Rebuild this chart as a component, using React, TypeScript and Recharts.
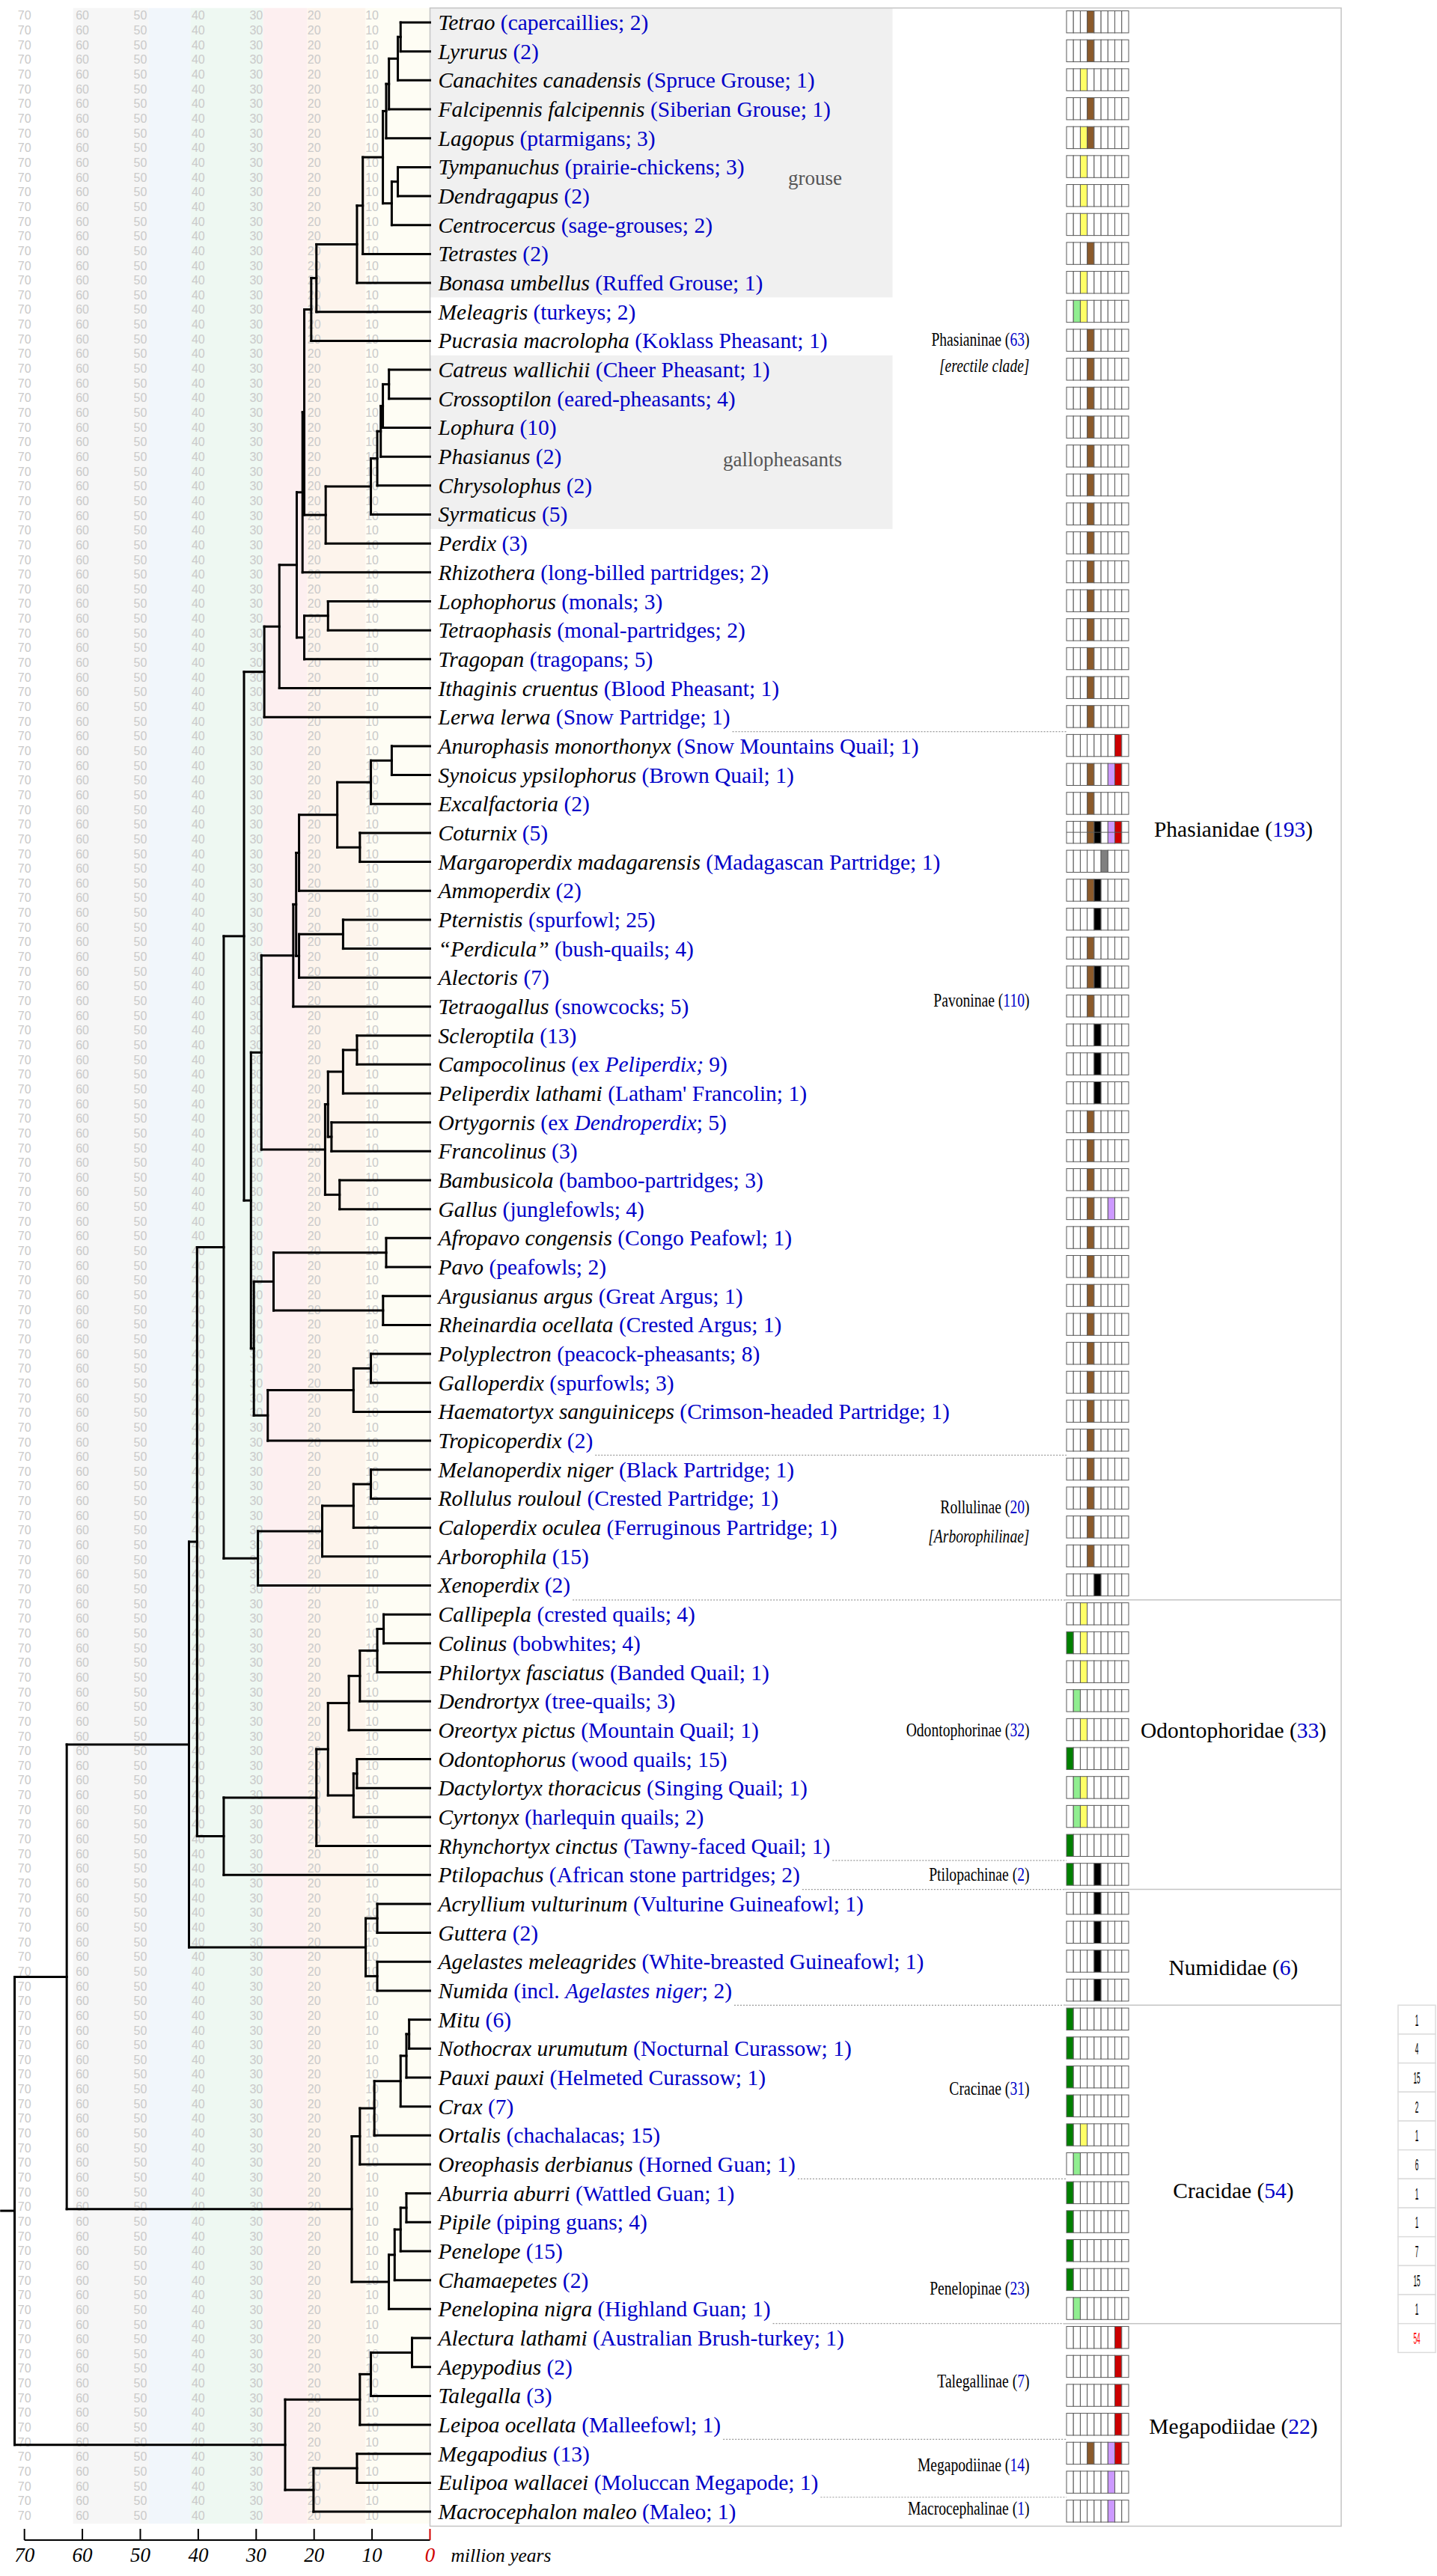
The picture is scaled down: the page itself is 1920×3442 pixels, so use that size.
import React from 'react';
import { ComposedChart, XAxis, YAxis, Scatter, ReferenceLine, ReferenceArea } from 'recharts';

// ---------------- data ----------------
const TAXA: string[] = [
  'Tetrao', 'Lyrurus', 'Canachites canadensis', 'Falcipennis falcipennis', 'Lagopus',
  'Tympanuchus', 'Dendragapus', 'Centrocercus', 'Tetrastes', 'Bonasa umbellus',
  'Meleagris', 'Pucrasia macrolopha', 'Catreus wallichii', 'Crossoptilon', 'Lophura',
  'Phasianus', 'Chrysolophus', 'Syrmaticus', 'Perdix', 'Rhizothera',
  'Lophophorus', 'Tetraophasis', 'Tragopan', 'Ithaginis cruentus', 'Lerwa lerwa',
  'Anurophasis monorthonyx', 'Synoicus ypsilophorus', 'Excalfactoria', 'Coturnix', 'Margaroperdix madagarensis',
  'Ammoperdix', 'Pternistis', '\u201CPerdicula\u201D', 'Alectoris', 'Tetraogallus',
  'Scleroptila', 'Campocolinus', 'Peliperdix lathami', 'Ortygornis', 'Francolinus',
  'Bambusicola', 'Gallus', 'Afropavo congensis', 'Pavo', 'Argusianus argus',
  'Rheinardia ocellata', 'Polyplectron', 'Galloperdix', 'Haematortyx sanguiniceps', 'Tropicoperdix',
  'Melanoperdix niger', 'Rollulus rouloul', 'Caloperdix oculea', 'Arborophila', 'Xenoperdix',
  'Callipepla', 'Colinus', 'Philortyx fasciatus', 'Dendrortyx', 'Oreortyx pictus',
  'Odontophorus', 'Dactylortyx thoracicus', 'Cyrtonyx', 'Rhynchortyx cinctus', 'Ptilopachus',
  'Acryllium vulturinum', 'Guttera', 'Agelastes meleagrides', 'Numida', 'Mitu',
  'Nothocrax urumutum', 'Pauxi pauxi', 'Crax', 'Ortalis', 'Oreophasis derbianus',
  'Aburria aburri', 'Pipile', 'Penelope', 'Chamaepetes', 'Penelopina nigra',
  'Alectura lathami', 'Aepypodius', 'Talegalla', 'Leipoa ocellata', 'Megapodius',
  'Eulipoa wallacei', 'Macrocephalon maleo',
];

const NOTES: string[] = [
  '(capercaillies; 2)', '(2)', '(Spruce Grouse; 1)', '(Siberian Grouse; 1)', '(ptarmigans; 3)',
  '(prairie-chickens; 3)', '(2)', '(sage-grouses; 2)', '(2)', '(Ruffed Grouse; 1)',
  '(turkeys; 2)', '(Koklass Pheasant; 1)', '(Cheer Pheasant; 1)', '(eared-pheasants; 4)', '(10)',
  '(2)', '(2)', '(5)', '(3)', '(long-billed partridges; 2)',
  '(monals; 3)', '(monal-partridges; 2)', '(tragopans; 5)', '(Blood Pheasant; 1)', '(Snow Partridge; 1)',
  '(Snow Mountains Quail; 1)', '(Brown Quail; 1)', '(2)', '(5)', '(Madagascan Partridge; 1)',
  '(2)', '(spurfowl; 25)', '(bush-quails; 4)', '(7)', '(snowcocks; 5)',
  '(13)', '(ex *Peliperdix;* 9)', "(Latham' Francolin; 1)", '(ex *Dendroperdix*; 5)', '(3)',
  '(bamboo-partridges; 3)', '(junglefowls; 4)', '(Congo Peafowl; 1)', '(peafowls; 2)', '(Great Argus; 1)',
  '(Crested Argus; 1)', '(peacock-pheasants; 8)', '(spurfowls; 3)', '(Crimson-headed Partridge; 1)', '(2)',
  '(Black Partridge; 1)', '(Crested Partridge; 1)', '(Ferruginous Partridge; 1)', '(15)', '(2)',
  '(crested quails; 4)', '(bobwhites; 4)', '(Banded Quail; 1)', '(tree-quails; 3)', '(Mountain Quail; 1)',
  '(wood quails; 15)', '(Singing Quail; 1)', '(harlequin quails; 2)', '(Tawny-faced Quail; 1)', '(African stone partridges; 2)',
  '(Vulturine Guineafowl; 1)', '(2)', '(White-breasted Guineafowl; 1)', '(incl. *Agelastes niger*; 2)', '(6)',
  '(Nocturnal Curassow; 1)', '(Helmeted Curassow; 1)', '(7)', '(chachalacas; 15)', '(Horned Guan; 1)',
  '(Wattled Guan; 1)', '(piping guans; 4)', '(15)', '(2)', '(Highland Guan; 1)',
  '(Australian Brush-turkey; 1)', '(2)', '(3)', '(Malleefowl; 1)', '(13)',
  '(Moluccan Megapode; 1)', '(Maleo; 1)',
];

// trait cells filled per taxon (column index 0..8)
const TRAITS: number[][] = [
  [3], [3], [2], [3], [2, 3], [2], [2], [2], [3], [2],
  [1, 2], [3], [3], [3], [3], [3], [3], [3], [3], [3],
  [3], [3], [3], [3], [3], [7], [3, 6, 7], [3], [3, 4, 6, 7], [5],
  [3, 4], [4], [3], [3, 4], [3], [4], [4], [4], [3], [3],
  [3], [3, 6], [3], [3], [3], [3], [3], [3], [3], [3],
  [3], [3], [3], [3], [4], [2], [0, 2], [2], [1], [2],
  [0], [1, 2], [1, 2], [0], [0, 4], [4], [4], [4], [4], [0],
  [0], [0], [0], [0, 2], [1], [0], [0], [0], [0], [1],
  [7], [7], [7], [7], [3, 6, 7], [6], [6],
];
const SPLIT_TRAIT_ROWS: number[] = [28];
const TRAIT_COLORS: string[] = ['#008000', '#90ee90', '#ffff66', '#8b5a2b', '#000000', '#808080', '#cc99ff', '#cc0000', '#ffffff'];

// internal nodes: [id, age (Ma), child, child]  (numbers = taxon rows)
type Child = number | string;
const NODES: [string, number, Child, Child][] = [
  ['n1', 5.07, 0, 1], ['n2', 5.55, 'n1', 2], ['n3', 7.08, 'n2', 3], ['n4', 7.56, 'n3', 4],
  ['g1', 5.55, 5, 6], ['g2', 6.6, 'g1', 7], ['n5', 8.13, 'n4', 'g2'], ['n6', 11.6, 'n5', 8],
  ['n7', 12.6, 'n6', 9], ['n8', 19.6, 'n7', 10], ['n9', 20.5, 'n8', 11],
  ['p1', 7.08, 12, 13], ['p2', 8.13, 'p1', 14], ['p3', 8.5, 'p2', 15], ['p4', 9.1, 'p3', 16],
  ['p5', 10.2, 'p4', 17], ['p6', 18.0, 'p5', 18], ['n10', 21.7, 'n9', 'p6'], ['n11', 22.0, 'n10', 19],
  ['l1', 17.6, 20, 21], ['l2', 21.7, 'l1', 22], ['n12', 23.0, 'n11', 'l2'], ['n13', 26.0, 'n12', 23],
  ['n14', 28.6, 'n13', 24],
  ['c1', 6.6, 25, 26], ['c2', 10.2, 'c1', 27], ['c3', 12.1, 28, 29], ['c4', 16.0, 'c2', 'c3'],
  ['c5', 22.6, 'c4', 30], ['a1', 15.0, 31, 32], ['a2', 22.6, 'a1', 33], ['c6', 23.1, 'c5', 'a2'],
  ['c7', 23.6, 'c6', 34], ['f1', 12.6, 35, 36], ['f2', 15.0, 'f1', 37], ['f3', 17.0, 38, 39],
  ['f4', 17.6, 'f2', 'f3'], ['b1', 15.6, 40, 41], ['f5', 18.1, 'f4', 'b1'], ['c8', 29.1, 'c7', 'f5'],
  ['v1', 7.56, 42, 43], ['v2', 8.1, 44, 45], ['v3', 27.0, 'v1', 'v2'], ['q1', 10.2, 46, 47],
  ['q2', 13.2, 'q1', 48], ['q3', 28.0, 'q2', 49], ['v4', 30.4, 'v3', 'q3'], ['pav', 30.9, 'c8', 'v4'],
  ['pha', 32.1, 'n14', 'pav'],
  ['r1', 10.2, 50, 51], ['r2', 13.2, 'r1', 52], ['r3', 18.6, 'r2', 53], ['r4', 29.7, 'r3', 54],
  ['phd', 35.6, 'pha', 'r4'],
  ['o1', 8.0, 55, 56], ['o2', 9.1, 'o1', 57], ['o3', 12.1, 'o2', 58], ['o4', 14.0, 'o3', 59],
  ['o5', 12.6, 60, 61], ['o6', 13.2, 'o5', 62], ['o7', 17.6, 'o4', 'o6'], ['o8', 19.6, 'o7', 63],
  ['odo', 35.6, 'o8', 64], ['po', 40.2, 'phd', 'odo'],
  ['u1', 9.1, 65, 66], ['u2', 9.1, 67, 68], ['num', 11.1, 'u1', 'u2'], ['pon', 41.6, 'po', 'num'],
  ['k1', 3.6, 69, 70], ['k2', 4.07, 'k1', 71], ['k3', 5.07, 'k2', 72], ['k4', 9.6, 'k3', 73],
  ['k5', 12.1, 'k4', 74], ['e1', 4.07, 75, 76], ['e2', 5.07, 'e1', 77], ['e3', 6.1, 'e2', 78],
  ['e4', 7.1, 'e3', 79], ['cra', 13.5, 'k5', 'e4'], ['crf', 62.7, 'pon', 'cra'],
  ['m1', 3.1, 80, 81], ['m2', 10.2, 'm1', 82], ['m3', 12.1, 'm2', 83], ['m4', 12.6, 84, 85],
  ['m5', 20.1, 'm4', 86], ['meg', 25.0, 'm3', 'm5'], ['root', 71.7, 'crf', 'meg'],
];
const ROOT_STEM_AGE = 74.0;

const AXIS_TICKS: number[] = [70, 60, 50, 40, 30, 20, 10, 0];
const GRID_VALUES: number[] = [70, 60, 50, 40, 30, 20, 10];

const BANDS = [
  { from: 61.6, to: 48.6, fill: '#f6f6f6' },
  { from: 48.6, to: 41.3, fill: '#f1f6fb' },
  { from: 41.3, to: 28.8, fill: '#eef8f2' },
  { from: 28.8, to: 21.2, fill: '#fdeff0' },
  { from: 21.2, to: 11.1, fill: '#fdf4ec' },
  { from: 11.1, to: 0, fill: '#fefdf4' },
];

const GROUPS = [
  { from: 0, to: 9, label: 'grouse', labelRow: 5.38 },
  { from: 12, to: 17, label: 'gallopheasants', labelRow: 15.1 },
];

const SUBFAMILIES = [
  { row: 10.97, name: 'Phasianinae', count: '63' },
  { row: 11.87, name: '[erectile clade]', count: '' },
  { row: 33.8, name: 'Pavoninae', count: '110' },
  { row: 51.3, name: 'Rollulinae', count: '20' },
  { row: 52.3, name: '[Arborophilinae]', count: '' },
  { row: 59.0, name: 'Odontophorinae', count: '32' },
  { row: 64.0, name: 'Ptilopachinae', count: '2' },
  { row: 71.4, name: 'Cracinae', count: '31' },
  { row: 78.3, name: 'Penelopinae', count: '23' },
  { row: 81.5, name: 'Talegallinae', count: '7' },
  { row: 84.4, name: 'Megapodiinae', count: '14' },
  { row: 85.9, name: 'Macrocephalinae', count: '1' },
];

const FAMILIES = [
  { row: 27.87, name: 'Phasianidae', count: '193' },
  { row: 59.0, name: 'Odontophoridae', count: '33' },
  { row: 67.2, name: 'Numididae', count: '6' },
  { row: 74.9, name: 'Cracidae', count: '54' },
  { row: 83.05, name: 'Megapodiidae', count: '22' },
];

const SUBFAMILY_BREAKS: number[] = [24.5, 49.5, 63.5, 74.5, 83.5, 85.5];
const FAMILY_BREAKS: number[] = [54.5, 64.5, 68.5, 79.5];

const COUNT_ROWS: number[] = [69, 70, 71, 72, 73, 74, 75, 76, 77, 78, 79, 80];
const COUNT_VALUES: string[] = ['1', '4', '15', '2', '1', '6', '1', '1', '7', '15', '1', '54'];

// ---------------- layout / style constants ----------------
const W = 1920;
const H = 3442;
const X_LEFT_AGE = 74.22;
const Y_MIN = -0.5;
const Y_MAX = 86.98;
const BAND_BOTTOM = 86.41;
const PANEL_BOTTOM = 86.5;
const ROW_PX = 38.674;
const LABEL_FS = 29.5;
const LABEL_DX = 11;
const BOX_DX = 850.5;
const SERIF = "'Liberation Serif', 'Times New Roman', serif";
const SANS = "'Liberation Sans', Arial, sans-serif";
const BLUE = '#0000c8';

// ---------------- tree geometry from data ----------------
const nodeMap = new Map<string, [string, number, Child, Child]>();
NODES.forEach((n) => nodeMap.set(n[0], n));
const yOf = (c: Child): number => {
  if (typeof c === 'number') return c;
  const n = nodeMap.get(c)!;
  return (yOf(n[2]) + yOf(n[3])) / 2;
};
const ageOf = (c: Child): number => (typeof c === 'number' ? 0 : nodeMap.get(c)![1]);

type Seg = { x1: number; y1: number; x2: number; y2: number };
const SEGMENTS: Seg[] = [];
NODES.forEach(([, age, a, b]) => {
  SEGMENTS.push({ x1: age, y1: yOf(a), x2: age, y2: yOf(b) });
  SEGMENTS.push({ x1: age, y1: yOf(a), x2: ageOf(a), y2: yOf(a) });
  SEGMENTS.push({ x1: age, y1: yOf(b), x2: ageOf(b), y2: yOf(b) });
});
SEGMENTS.push({ x1: ROOT_STEM_AGE, y1: yOf('root'), x2: 71.7, y2: yOf('root') });

// text measuring (for dotted leaders that start where a label ends)
let measureCtx: CanvasRenderingContext2D | null = null;
const measure = (txt: string, italic: boolean): number => {
  if (typeof document === 'undefined') return txt.length * LABEL_FS * 0.45;
  if (!measureCtx) measureCtx = document.createElement('canvas').getContext('2d');
  if (!measureCtx) return txt.length * LABEL_FS * 0.45;
  measureCtx.font = `${italic ? 'italic ' : ''}${LABEL_FS}px 'Liberation Serif'`;
  return measureCtx.measureText(txt).width;
};
const labelWidth = (i: number): number =>
  measure(TAXA[i], true) + measure(' ', false) +
  NOTES[i].split('*').reduce((s, part, k) => s + measure(part, k % 2 === 1), 0);

const TIP_DATA = TAXA.map((name, i) => ({ age: 0, row: i, name, note: NOTES[i], traits: TRAITS[i] }));

const renderNote = (note: string) =>
  note.split('*').map((p, i) => (
    <tspan key={i} fontStyle={i % 2 ? 'italic' : 'normal'}>{p}</tspan>
  ));

const TipShape = (p: any) => {
  const { cx, cy, payload } = p;
  const bx = cx + BOX_DX;
  const by = cy - 15.5;
  const cw = 83 / 9;
  const bh = 29.4;
  return (
    <g>
      <text x={cx + LABEL_DX} y={cy + 10} fontFamily={SERIF} fontSize={LABEL_FS}>
        <tspan fontStyle="italic" fill="#000">{payload.name}</tspan>
        <tspan fill={BLUE}>{' '}{renderNote(payload.note)}</tspan>
      </text>
      {Array.from({ length: 9 }, (_, i) => (
        <rect key={i} x={bx + i * cw} y={by} width={cw} height={bh}
          fill={payload.traits.includes(i) ? TRAIT_COLORS[i] : '#ffffff'} stroke="#5a5a5a" strokeWidth={1} />
      ))}
      {SPLIT_TRAIT_ROWS.includes(payload.row) && (
        <line x1={bx} x2={bx + 83} y1={by + bh / 2} y2={by + bh / 2} stroke="#5a5a5a" strokeWidth={1} />
      )}
    </g>
  );
};

const AxisTick = (p: any) => {
  const { x, y, payload } = p;
  const v = payload.value;
  const col = v === 0 ? '#d00000' : '#000000';
  return (
    <g>
      <line x1={x} x2={x} y1={y - 15} y2={y} stroke={col} strokeWidth={2} />
      <text x={x} y={y + 29} textAnchor="middle" fontFamily={SERIF} fontStyle="italic" fontSize={27} fill={col}>{v}</text>
      {v === 0 && (
        <text x={x + 28} y={y + 29} fontFamily={SERIF} fontStyle="italic" fontSize={25.5} fill="#000">million years</text>
      )}
    </g>
  );
};

export default function App() {
  return (
    <div style={{ position: 'absolute', left: 0, top: 0, width: W, height: H, background: '#fff' }}>
      <ComposedChart width={W} height={H} margin={{ top: 10.66, right: 1345.5, bottom: 0, left: 0 }}>
        <XAxis type="number" dataKey="age" domain={[0, X_LEFT_AGE]} reversed ticks={AXIS_TICKS} interval={0}
          axisLine={false} tickLine={false} tickSize={0} tickMargin={0} height={48} tick={<AxisTick />} allowDecimals />
        <YAxis type="number" dataKey="row" domain={[Y_MIN, Y_MAX]} reversed hide />

        {BANDS.map((b, i) => (
          <ReferenceArea key={'band' + i} x1={b.from} x2={b.to} y1={Y_MIN} y2={BAND_BOTTOM}
            fill={b.fill} fillOpacity={1} stroke="none" ifOverflow="visible" />
        ))}

        {GRID_VALUES.map((v) => (
          <ReferenceArea key={'grid' + v} x1={v} x2={v} y1={Y_MIN} y2={BAND_BOTTOM} ifOverflow="visible"
            shape={(p: any) => (
              <g>
                {Array.from({ length: 171 }, (_, k) => (
                  <text key={k} x={p.x} y={p.y + 10.0 + k * 19.65 + 5.8} textAnchor="middle"
                    fontFamily={SANS} fontSize={16} fill="#cacaca">{v}</text>
                ))}
              </g>
            )} />
        ))}

        {GROUPS.map((g, i) => (
          <ReferenceArea key={'grp' + i} x1={0} x2={0} y1={g.from - 0.5} y2={g.to + 0.5} ifOverflow="visible"
            shape={(p: any) => <rect x={p.x} y={p.y} width={618} height={p.height} fill="#f0f0f0" />} />
        ))}

        <ReferenceArea x1={0} x2={0} y1={Y_MIN} y2={PANEL_BOTTOM} ifOverflow="visible"
          shape={(p: any) => (
            <rect x={p.x} y={p.y} width={1217.5} height={p.height} fill="none" stroke="#c4c4c4" strokeWidth={1.5} />
          )} />

        {SEGMENTS.map((s, i) => (
          <ReferenceLine key={'seg' + i} segment={[{ x: s.x1, y: s.y1 }, { x: s.x2, y: s.y2 }]}
            stroke="#000" strokeWidth={3} strokeLinecap="square" ifOverflow="visible" />
        ))}

        <ReferenceLine segment={[{ x: 70, y: Y_MAX }, { x: 0, y: Y_MAX }]} stroke="#000" strokeWidth={2} ifOverflow="visible" />

        <Scatter data={SUBFAMILY_BREAKS.map((r) => ({ age: 0, row: r }))} isAnimationActive={false}
          shape={(p: any) => (
            <line x1={p.cx + LABEL_DX + labelWidth(Math.floor(p.payload.row)) + 3} x2={p.cx + BOX_DX}
              y1={p.cy} y2={p.cy} stroke="#9a9a9a" strokeWidth={1.2} strokeDasharray="2 2" />
          )} />
        <Scatter data={FAMILY_BREAKS.map((r) => ({ age: 0, row: r }))} isAnimationActive={false}
          shape={(p: any) => (
            <g>
              <line x1={p.cx + LABEL_DX + labelWidth(Math.floor(p.payload.row)) + 3} x2={p.cx + BOX_DX}
                y1={p.cy} y2={p.cy} stroke="#9a9a9a" strokeWidth={1.2} strokeDasharray="2 2" />
              <line x1={p.cx + BOX_DX - 4} x2={p.cx + 1217.5} y1={p.cy} y2={p.cy} stroke="#c4c4c4" strokeWidth={1.5} />
            </g>
          )} />

        <Scatter data={GROUPS.map((g) => ({ age: 0, row: g.labelRow, label: g.label }))} isAnimationActive={false}
          shape={(p: any) => (
            <text x={p.cx + 550.5} y={p.cy + 9} textAnchor="end" fontFamily={SERIF} fontSize={27} fill="#555">{p.payload.label}</text>
          )} />

        <Scatter data={TIP_DATA} isAnimationActive={false} shape={<TipShape />} />

        <Scatter data={SUBFAMILIES.map((s) => ({ age: 0, ...s }))} isAnimationActive={false}
          shape={(p: any) => (
            <text transform={`translate(${p.cx + 801},${p.cy + 8}) scale(0.8,1)`} x={0} y={0} textAnchor="end"
              fontFamily={SERIF} fontSize={24.5} fill="#000" fontStyle={p.payload.count ? 'normal' : 'italic'}>
              {p.payload.count ? (
                <>
                  {p.payload.name + ' ('}<tspan fill={BLUE}>{p.payload.count}</tspan>{')'}
                </>
              ) : p.payload.name}
            </text>
          )} />

        <Scatter data={FAMILIES.map((f) => ({ age: 0, ...f }))} isAnimationActive={false}
          shape={(p: any) => (
            <text x={p.cx + 1073.5} y={p.cy + 10} textAnchor="middle" fontFamily={SERIF} fontSize={29.5} fill="#000">
              {p.payload.name + ' ('}<tspan fill={BLUE}>{p.payload.count}</tspan>{')'}
            </text>
          )} />

        <Scatter data={COUNT_ROWS.map((r, i) => ({ age: 0, row: r, value: COUNT_VALUES[i], last: i === COUNT_ROWS.length - 1 }))}
          isAnimationActive={false}
          shape={(p: any) => (
            <g>
              <rect x={p.cx + 1293.5} y={p.cy - ROW_PX / 2} width={50} height={ROW_PX} fill="#fff" stroke="#dcdcdc" strokeWidth={1.5} />
              <text x={p.cx + 1318.5} y={p.cy + 8} textAnchor="middle" fontFamily={SANS} fontSize={22}
                fill={p.payload.last ? '#ff0000' : '#000'} textLength={p.payload.value.length * 4.6}
                lengthAdjust="spacingAndGlyphs">{p.payload.value}</text>
            </g>
          )} />
      </ComposedChart>
    </div>
  );
}
